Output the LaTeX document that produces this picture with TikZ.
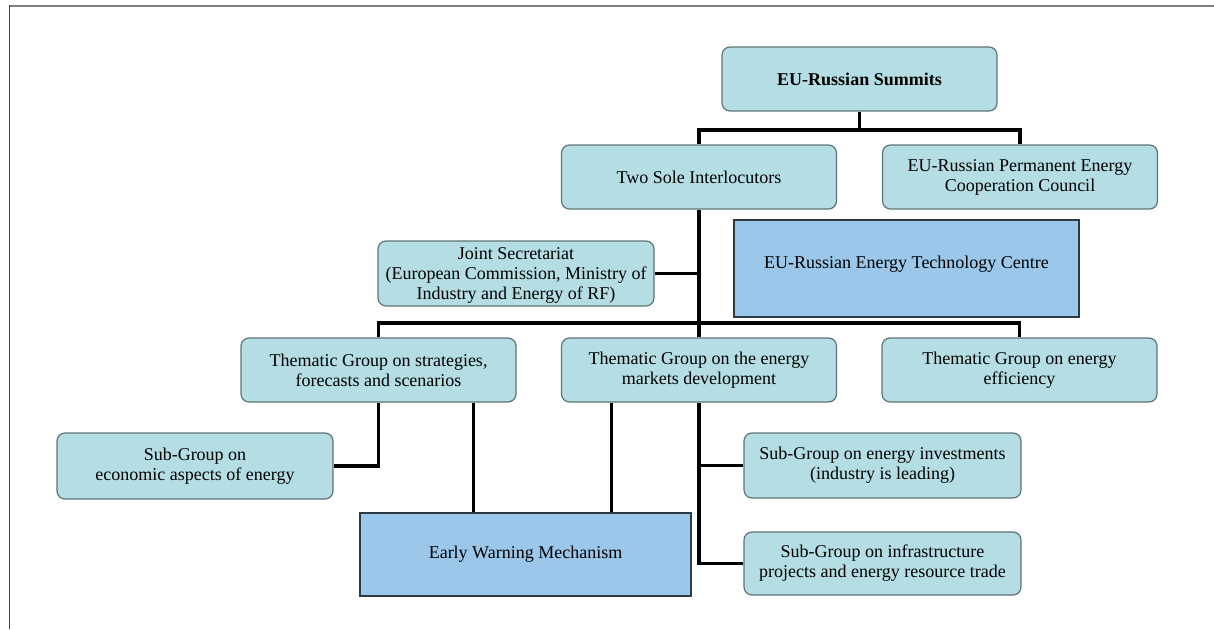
\documentclass[tikz,border=0pt]{standalone}
\usepackage{fontspec}
\setmainfont{Liberation Serif}
\usepackage{tikz}
\usetikzlibrary{shapes.geometric, backgrounds}
\definecolor{groupfill}{HTML}{B4DEE3}
\definecolor{groupdraw}{HTML}{5E7377}
\definecolor{centrefill}{HTML}{9AC7EA}
\definecolor{centredraw}{HTML}{2E3A44}
\tikzstyle{group}  = [rectangle, rounded corners=8pt, minimum width=275pt,
                      minimum height=64pt, text centered, align=center,
                      draw=groupdraw, line width=1.2pt, fill=groupfill,
                      inner sep=2pt]
\tikzstyle{centre} = [rectangle, text centered, align=center,
                      draw=centredraw, line width=1.2pt, fill=centrefill,
                      inner sep=2pt]
\tikzstyle{line}     = [line width=3.6pt]
\tikzstyle{thinline} = [line width=3pt]

\begin{document}
\begin{tikzpicture}[x=1pt, y=1pt, node distance=98pt,
                    font=\fontsize{18}{20}\selectfont]
\useasboundingbox (0,0) rectangle (1214,-629);
% frame of the page
\draw [gray, line width=2pt] (9,-5.5) -- (1214,-5.5);
\draw [black!75, line width=1.5pt] (9.5,-5) -- (9.5,-629);

\node (sum)  [group] at (859.5,-79) {\textbf{EU-Russian Summits}};
\node (two)  [group, below of=sum, xshift=-160.5pt] {Two Sole Interlocutors};
\node (cou)  [group, below of=sum, xshift= 160.5pt]
             {EU-Russian Permanent Energy\\Cooperation Council};
\node (jnt)  [group, below of=two, xshift=-183pt, yshift=1.5pt,
              minimum width=276pt, minimum height=65pt, text depth=-8pt]
             {Joint Secretariat\\(European Commission, Ministry of\\Industry and Energy of RF)};
\node (etc)  [centre, below of=two, xshift=207.5pt, yshift=6.5pt,
              minimum width=345pt, minimum height=97pt,
              text height=10pt, text depth=10pt]
             {EU-Russian Energy Technology Centre};
\node (tg2)  [group, below of=two, yshift=-95pt]
             {Thematic Group on the energy\\markets development};
\node (tg1)  [group, below of=two, xshift=-320.5pt, yshift=-95pt]
             {Thematic Group on strategies,\\forecasts and scenarios};
\node (tg3)  [group, below of=two, xshift= 320.5pt, yshift=-95pt]
             {Thematic Group on energy\\efficiency};
\node (sge)  [group, below of=tg1, xshift=-183.5pt, yshift=2pt,
              minimum width=276pt, minimum height=66pt]
             {Sub-Group on\\economic aspects of energy};
\node (sgi)  [group, below of=tg2, xshift=183.5pt, yshift=2.5pt,
              minimum width=277pt, minimum height=65pt]
             {Sub-Group on energy investments\\(industry is leading)};
\node (sgt)  [group, below of=sgi, minimum width=277pt, minimum height=63pt]
             {Sub-Group on infrastructure\\projects and energy resource trade};
\node (ewm)  [centre, below of=tg2, xshift=-173.5pt, yshift=-86.5pt,
              minimum width=331pt, minimum height=83pt]
             {Early Warning Mechanism};

\coordinate (top) at (859.5,-130);
\coordinate (mid) at (699,-323);

\begin{scope}[on background layer]
\draw [line] (sum) -- (top);
\draw [line] (two.north) |- (top) -| (cou.north);
\draw [line] (two) -- (tg2);
\draw [line] (jnt.east) -- (jnt.east -| two.south);
\draw [line] (tg1.north) |- (mid) -| (tg3.north);
\draw [line] (tg1.south) |- (sge.east);
\draw [thinline] ([xshift=94.5pt]tg1.south) -- ([xshift=-52.5pt]ewm.north);
\draw [thinline] ([xshift=-88pt]tg2.south) -- ([xshift=85.5pt]ewm.north);
\draw [line] (tg2.south) |- (sgt.west);
\draw [line] (sgi.west) -- (sgi.west -| tg2.south);
\end{scope}
\end{tikzpicture}
\end{document}
